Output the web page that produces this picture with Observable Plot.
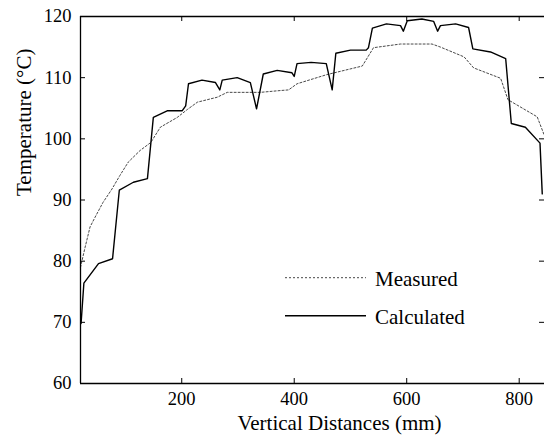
<!DOCTYPE html>
<html>
<head>
<meta charset="utf-8">
<script src="https://cdn.jsdelivr.net/npm/d3@7"></script>
<script src="https://cdn.jsdelivr.net/npm/@observablehq/plot@0.6"></script>
<style>
  html, body { margin: 0; padding: 0; background: #fff; }
  #wrap { position: relative; width: 544px; height: 435px; overflow: hidden; }
  #legend { position: absolute; left: 0; top: 0; }
</style>
</head>
<body>
<div id="wrap"></div>
<script>
// Measured temperature (dotted)
const measuredX = [20, 28, 37, 46, 60, 76, 90, 105, 126, 145, 162, 192, 210, 228, 263, 281, 340, 376, 390, 405, 458, 521, 541, 589, 645, 660, 702, 719, 767, 780, 832, 845];
const measuredY = [79.0, 82.2, 85.6, 87.2, 89.6, 91.8, 94.0, 96.2, 98.1, 99.4, 101.9, 103.5, 104.8, 106.0, 106.8, 107.6, 107.6, 107.9, 108.0, 109.0, 110.5, 111.9, 114.9, 115.5, 115.5, 115.0, 113.4, 111.6, 109.9, 106.4, 103.6, 100.5];

// Calculated temperature (solid)
const calculatedX = [21, 26, 52, 77, 89, 114, 139, 149.5, 175, 201, 207, 212, 236, 260, 267.7, 272, 298.6, 322, 333, 345, 369.7, 396, 400, 405, 430, 457, 467.5, 474, 500, 528, 532, 539, 564, 589, 594, 601, 627, 648, 655, 660, 687, 710, 717.6, 749, 776, 786, 811, 837, 841];
const calculatedY = [69.8, 76.4, 79.6, 80.4, 91.6, 92.9, 93.5, 103.5, 104.6, 104.6, 105.4, 109.0, 109.6, 109.2, 108.0, 109.6, 110.0, 109.2, 104.9, 110.6, 111.2, 110.8, 110.2, 112.3, 112.5, 112.3, 108.0, 114.0, 114.5, 114.5, 114.9, 118.1, 118.8, 118.5, 117.6, 119.3, 119.6, 119.2, 117.6, 118.5, 118.8, 118.2, 114.7, 114.2, 113.1, 102.5, 101.9, 99.3, 91.0];

const xTicks = [200, 400, 600, 800];
const yTicks = [60, 70, 80, 90, 100, 110, 120];
const xDomain = [20, 845];
const yDomain = [60, 120];
const xTitle = "Vertical Distances (mm)";
const yTitle = "Temperature (°C)";
const seriesNames = ["Measured", "Calculated"];

const measured = measuredX.map((x, i) => ({x, y: measuredY[i]}));
const calculated = calculatedX.map((x, i) => ({x, y: calculatedY[i]}));

const FONT = "Liberation Serif";
const W = 544, H = 435, ML = 80, MT = 16, MB = 52, MR = 0;
const TICK = 5;
const innerW = W - ML - MR, innerH = H - MT - MB;

const chart = Plot.plot({
  width: W,
  height: H,
  marginLeft: ML,
  marginTop: MT,
  marginBottom: MB,
  marginRight: MR,
  style: {fontFamily: FONT, fontSize: "18.5px", background: "white", color: "black"},
  x: {domain: xDomain, ticks: xTicks, label: null},
  y: {domain: yDomain, ticks: yTicks, label: null},
  marks: [
    Plot.axisX({ticks: xTicks, tickSize: 0, tickPadding: 8, fontSize: 18.5, label: null}),
    Plot.axisY({ticks: yTicks, tickSize: 0, tickPadding: 9, fontSize: 18.5, label: null}),
    Plot.line(measured, {x: "x", y: "y", stroke: "#333", strokeWidth: 0.9, strokeDasharray: "2,2"}),
    Plot.line(calculated, {x: "x", y: "y", stroke: "black", strokeWidth: 1.4}),
    Plot.ruleY([yDomain[0], yDomain[1]], {stroke: "black", strokeWidth: 1.3}),
    Plot.ruleX([xDomain[0]], {stroke: "black", strokeWidth: 1.3}),
    // inward ticks on all four sides
    Plot.ruleX(xTicks, {insetTop: innerH - TICK, stroke: "black", strokeWidth: 1}),
    Plot.ruleX(xTicks, {insetBottom: innerH - TICK, stroke: "black", strokeWidth: 1}),
    Plot.ruleY(yTicks, {insetRight: innerW - TICK, stroke: "black", strokeWidth: 1}),
    Plot.ruleY(yTicks, {insetLeft: innerW - TICK, stroke: "black", strokeWidth: 1}),
    Plot.text([xTitle], {frameAnchor: "bottom", dx: 27, dy: 46, fontSize: 21, fill: "black"}),
    Plot.text([yTitle], {frameAnchor: "left", rotate: -90, dx: -56, dy: -4, fontSize: 21, fill: "black"})
  ]
});
document.getElementById("wrap").appendChild(chart);

// Legend overlay
const ns = "http://www.w3.org/2000/svg";
const leg = document.createElementNS(ns, "svg");
leg.setAttribute("id", "legend");
leg.setAttribute("width", W);
leg.setAttribute("height", H);
const items = [
  {name: seriesNames[0], y: 277.7, dash: "2,2", stroke: "#333", sw: 0.9, base: 285.7},
  {name: seriesNames[1], y: 315.7, dash: null, stroke: "black", sw: 1.4, base: 324.3}
];
for (const it of items) {
  const ln = document.createElementNS(ns, "line");
  ln.setAttribute("x1", 285); ln.setAttribute("x2", 366);
  ln.setAttribute("y1", it.y); ln.setAttribute("y2", it.y);
  ln.setAttribute("stroke", it.stroke);
  ln.setAttribute("stroke-width", it.sw);
  if (it.dash) ln.setAttribute("stroke-dasharray", it.dash);
  leg.appendChild(ln);
  const t = document.createElementNS(ns, "text");
  t.setAttribute("x", 375); t.setAttribute("y", it.base);
  t.setAttribute("font-family", FONT);
  t.setAttribute("font-size", 21);
  t.setAttribute("fill", "black");
  t.textContent = it.name;
  leg.appendChild(t);
}
document.getElementById("wrap").appendChild(leg);
</script>
</body>
</html>
